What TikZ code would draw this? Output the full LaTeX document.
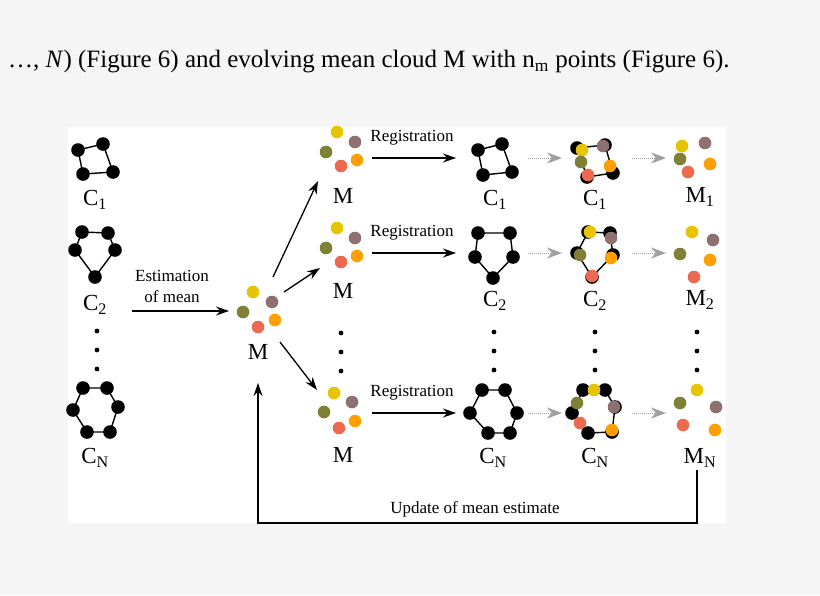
\documentclass[tikz,border=0pt]{standalone}
\usepackage{fontspec}
\setmainfont{Liberation Serif}
\usetikzlibrary{arrows.meta}
\definecolor{cy}{HTML}{E6C400}
\definecolor{cb}{HTML}{8E7070}
\definecolor{co}{HTML}{7F7F35}
\definecolor{cr}{HTML}{EC6A50}
\definecolor{cg}{HTML}{FFA000}
\definecolor{bgg}{HTML}{F5F5F5}
\begin{document}
\begin{tikzpicture}[x=1pt,y=-1pt,
  lab/.style={font=\fontsize{23}{25}\selectfont,inner sep=0pt},
  reg/.style={font=\fontsize{17}{19}\selectfont,inner sep=0pt},
  arr/.style={-{Stealth[length=13pt,width=9pt]},line width=1.3pt},
  darr/.style={-{Stealth[length=15pt,width=11pt]},gray!75,line width=1pt,dash pattern=on 1pt off 1pt},
  edge/.style={line width=1.4pt}]
\useasboundingbox (0,0) rectangle (820,595);
\fill[bgg] (0,0) rectangle (820,595);
\fill[white] (68,127) rectangle (726,523);
\node[font=\fontsize{25}{27}\selectfont,anchor=west,inner sep=0pt] (top) at (8,62) {\ldots, \textit{N}) (Figure 6) and evolving mean cloud M with n\textsubscript{m} points (Figure 6).};
\newcommand{\mydots}[2]{\foreach \dy in {0,19,38}{\fill (#1,#2+\dy) circle (2.4);}}
\newcommand{\mycloud}[5]{\fill[cy] #1 circle (6.3); \fill[cb] #2 circle (6.3); \fill[co] #3 circle (6.3); \fill[cg] #4 circle (6.3); \fill[cr] #5 circle (6.3);}
\def\vr{6.8}
% --- column 1
\draw[edge] (78,150)--(103,144)--(113,172)--(83,174)--cycle;
\foreach \q in {(78,150),(103,144),(113,172),(83,174)} \fill \q circle (\vr);
\node[lab] (c11) at (95,200) {C\textsubscript{1}};
\draw[edge] (82,232)--(108,233)--(115,250)--(95,277)--(75,250)--cycle;
\foreach \q in {(82,232),(108,233),(115,250),(95,277),(75,250)} \fill \q circle (\vr);
\node[lab] (c12) at (95,305) {C\textsubscript{2}};
\mydots{97}{331}
\draw[edge] (83,388)--(107,388)--(118,407)--(110,432)--(87,432)--(73,410)--cycle;
\foreach \q in {(83,388),(107,388),(118,407),(110,432),(87,432),(73,410)} \fill \q circle (\vr);
\node[lab] (c1n) at (95,458) {C\textsubscript{N}};
% estimation
\coordinate (ea) at (132,311); \coordinate (eb) at (229,311);
\draw[arr] (ea) -- (eb);
\node[reg] (est) at (172,276) {Estimation};
\node[reg] (om) at (172,297) {of mean};
% centre cloud
\mycloud{(253,292)}{(272,302)}{(243,312)}{(275,320)}{(258,327)}
\node[lab] (m0) at (258,352) {M};
\coordinate (s1) at (273,277); \coordinate (t1) at (318,181);
\coordinate (s2) at (284,292); \coordinate (t2) at (320,268);
\coordinate (s3) at (280,342); \coordinate (t3) at (317,390);
\draw[arr] (s1)--(t1); \draw[arr] (s2)--(t2); \draw[arr] (s3)--(t3);
% M column
\mycloud{(337,132)}{(355,142)}{(326,152)}{(357,160)}{(341,166)}
\node[lab] (m1) at (343,196) {M};
\mycloud{(337,228)}{(355,238)}{(326,248)}{(357,256)}{(341,262)}
\node[lab] (m2) at (343,291) {M};
\mydots{341}{333}
\mycloud{(334,393)}{(352,402)}{(324,412)}{(355,421)}{(339,428)}
\node[lab] (m3) at (343,455) {M};
% registration arrows
\foreach \y/\n in {158/1,253/2,413/3}{
  \coordinate (ra\n) at (372,\y); \coordinate (rb\n) at (456,\y);
  \draw[arr] (ra\n)--(rb\n);
  \node[reg] (rt\n) at (412,\y-20) {Registration};
  \coordinate (da\n) at (528,\y); \coordinate (db\n) at (562,\y);
  \draw[darr] (da\n)--(db\n);
  \coordinate (dc\n) at (632,\y); \coordinate (dd\n) at (666,\y);
  \draw[darr] (dc\n)--(dd\n);
}
% column 3
\draw[edge] (478,150)--(502,144)--(512,172)--(483,175)--cycle;
\foreach \q in {(478,150),(502,144),(512,172),(483,175)} \fill \q circle (\vr);
\node[lab] (c31) at (495,200) {C\textsubscript{1}};
\draw[edge] (478,233)--(510,233)--(513,257)--(493,278)--(475,257)--cycle;
\foreach \q in {(478,233),(510,233),(513,257),(493,278),(475,257)} \fill \q circle (\vr);
\node[lab] (c32) at (495,301) {C\textsubscript{2}};
\mydots{494}{332}
\draw[edge] (482,390)--(505,390)--(517,413)--(510,433)--(488,433)--(470,413)--cycle;
\foreach \q in {(482,390),(505,390),(517,413),(510,433),(488,433),(470,413)} \fill \q circle (\vr);
\node[lab] (c3n) at (493,458) {C\textsubscript{N}};
% column 4
\draw[edge] (577,148)--(605,145)--(613,173)--(587,177)--cycle;
\foreach \q in {(577,148),(605,145),(613,173),(587,177)} \fill \q circle (\vr);
\mycloud{(582,150)}{(603,146)}{(581,162)}{(610,166)}{(588,175)}
\node[lab] (c41) at (595,200) {C\textsubscript{1}};
\draw[edge] (588,232)--(610,233)--(613,255)--(592,277)--(577,253)--cycle;
\foreach \q in {(588,232),(610,233),(613,255),(592,277),(577,253)} \fill \q circle (\vr);
\mycloud{(590,232)}{(611,238)}{(580,255)}{(611,258)}{(592,276)}
\node[lab] (c42) at (595,301) {C\textsubscript{2}};
\mydots{595}{332}
\draw[edge] (583,390)--(605,390)--(615,407)--(612,432)--(588,433)--(572,413)--cycle;
\foreach \q in {(583,390),(605,390),(615,407),(612,432),(588,433),(572,413)} \fill \q circle (\vr);
\mycloud{(594,390)}{(614,407)}{(577,403)}{(612,430)}{(580,423)}
\node[lab] (c4n) at (595,458) {C\textsubscript{N}};
% column 5
\mycloud{(682,146)}{(705,143)}{(680,159)}{(710,164)}{(688,172)}
\node[lab] (m51) at (700,197) {M\textsubscript{1}};
\mycloud{(692,232)}{(713,240)}{(680,254)}{(710,260)}{(694,277)}
\node[lab] (m52) at (700,300) {M\textsubscript{2}};
\mydots{697}{332}
\mycloud{(697,390)}{(716,407)}{(680,403)}{(715,430)}{(683,425)}
\node[lab] (m5n) at (700,458) {M\textsubscript{N}};
% feedback
\coordinate (f0) at (697,470); \coordinate (f1) at (697,523);
\coordinate (f2) at (258,523); \coordinate (f3) at (258,383);
\draw[arr] (f0)--(f1)--(f2)--(f3);
\node[reg] (upd) at (475,509) {Update of mean estimate};
\end{tikzpicture}
\end{document}
